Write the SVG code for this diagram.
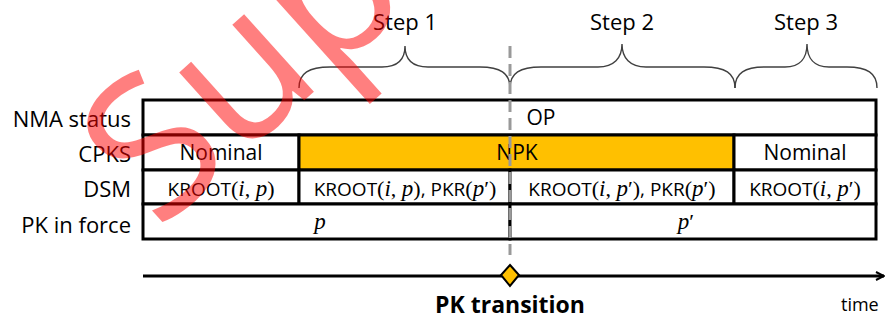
<svg xmlns="http://www.w3.org/2000/svg" width="886" height="320" viewBox="0 0 886 320">
<style>
  .lbl{font-family:"Open Sans","Noto Sans",sans-serif;font-size:22px;fill:#000;text-anchor:end}
  .cell{font-family:"Open Sans","Noto Sans",sans-serif;font-size:21px;fill:#000;text-anchor:middle}
  .dsm{font-family:"Open Sans","Noto Sans",sans-serif;font-size:19px;fill:#000;text-anchor:middle}
  .m{font-family:"Liberation Serif","DejaVu Serif",serif;font-size:22px}
  .mi{font-family:"Liberation Serif","DejaVu Serif",serif;font-size:23px;font-style:italic}
  .step{font-family:"Open Sans","Noto Sans",sans-serif;font-size:22px;fill:#000;text-anchor:middle}
  .box{fill:#fff;stroke:#000;stroke-width:3}
  .npk{fill:#FFC000;stroke:#000;stroke-width:3}
  .brace{fill:none;stroke:#404040;stroke-width:1.4}
</style>
<defs>
  <marker id="arr" viewBox="0 0 10 10" refX="9" refY="5" markerWidth="10" markerHeight="10" markerUnits="userSpaceOnUse" orient="auto">
    <path d="M1,1 L9,5 L1,9" fill="none" stroke="#000" stroke-width="2"/>
  </marker>
</defs>

<g id="row-labels">
  <text class="lbl" x="131" y="127">NMA status</text>
  <text class="lbl" x="131" y="162">CPKS</text>
  <text class="lbl" x="131" y="197">DSM</text>
  <text class="lbl" x="131" y="233">PK in force</text>
</g>

<g id="nma-op">
  <rect class="box" x="143" y="100" width="733" height="35"/>
  <text class="cell" x="541" y="125">OP</text>
</g>

<g id="cpks-nominal-1">
  <rect class="box" x="143" y="135" width="156" height="35"/>
  <text class="cell" x="221" y="160">Nominal</text>
</g>
<g id="cpks-npk">
  <rect class="npk" x="299" y="135" width="435" height="35"/>
  <text class="cell" x="517" y="160">NPK</text>
</g>
<g id="cpks-nominal-2">
  <rect class="box" x="734" y="135" width="142" height="35"/>
  <text class="cell" x="805" y="160">Nominal</text>
</g>

<g id="dsm-1">
  <rect class="box" x="143" y="170" width="156" height="34"/>
  <text class="dsm" x="221" y="196">KROOT<tspan class="m">(</tspan><tspan class="mi">i</tspan><tspan class="m">, </tspan><tspan class="mi">p</tspan><tspan class="m">)</tspan></text>
</g>
<g id="dsm-2">
  <rect class="box" x="299" y="170" width="211" height="34"/>
  <text class="dsm" x="405" y="196">KROOT<tspan class="m">(</tspan><tspan class="mi">i</tspan><tspan class="m">, </tspan><tspan class="mi">p</tspan><tspan class="m">)</tspan>, PKR<tspan class="m">(</tspan><tspan class="mi">p</tspan><tspan class="m">′)</tspan></text>
</g>
<g id="dsm-3">
  <rect class="box" x="510" y="170" width="224" height="34"/>
  <text class="dsm" x="622" y="196">KROOT<tspan class="m">(</tspan><tspan class="mi">i</tspan><tspan class="m">, </tspan><tspan class="mi">p</tspan><tspan class="m">′)</tspan>, PKR<tspan class="m">(</tspan><tspan class="mi">p</tspan><tspan class="m">′)</tspan></text>
</g>
<g id="dsm-4">
  <rect class="box" x="734" y="170" width="142" height="34"/>
  <text class="dsm" x="805" y="196">KROOT<tspan class="m">(</tspan><tspan class="mi">i</tspan><tspan class="m">, </tspan><tspan class="mi">p</tspan><tspan class="m">′)</tspan></text>
</g>

<g id="pk-p">
  <rect class="box" x="143" y="204" width="367" height="35"/>
  <text class="cell" x="320" y="229"><tspan class="mi">p</tspan></text>
</g>
<g id="pk-pprime">
  <rect class="box" x="510" y="204" width="366" height="35"/>
  <text class="cell" x="686" y="229"><tspan class="mi">p</tspan><tspan class="m">′</tspan></text>
</g>

<g id="steps">
  <text class="step" x="405" y="30">Step 1</text>
  <text class="step" x="622" y="30">Step 2</text>
  <text class="step" x="806" y="30">Step 3</text>
</g>

<g id="connectors">
  <path class="brace" d="M299,88 C299,73 309,67 330,67 L382,67 C398,67 405,60 405,46 C405,60 412,67 428,67 L480,67 C500,67 510,73 510,88"/>
  <path class="brace" d="M510,88 C510,73 520,67 541,67 L598,67 C614,67 622,58 622,44 C622,58 630,67 646,67 L704,67 C725,67 735,73 735,88"/>
  <path class="brace" d="M735,88 C735,73 745,67 765,67 L785,67 C800,67 807,58 807,44 C807,58 814,67 829,67 L847,67 C867,67 877,73 877,88"/>
  <line x1="510" y1="46" x2="510" y2="255" stroke="#999" stroke-width="3" stroke-dasharray="12 6"/>
  <line x1="143" y1="276" x2="884" y2="276" stroke="#000" stroke-width="3" marker-end="url(#arr)"/>
</g>

<g id="pk-transition">
  <polygon points="510,265 519,275 510,286 501,275" fill="#FFC000" stroke="#000" stroke-width="2"/>
  <text x="510" y="313" font-family="'Open Sans','Noto Sans',sans-serif" font-size="23" font-weight="bold" text-anchor="middle">PK transition</text>
</g>
<text x="841" y="311" font-family="'Open Sans','Noto Sans',sans-serif" font-size="18">time</text>

<text transform="translate(158,232) rotate(-42)" font-family="'Open Sans','Noto Sans',sans-serif" font-size="195" fill="#FF0000" fill-opacity="0.5">Sup</text>
</svg>
